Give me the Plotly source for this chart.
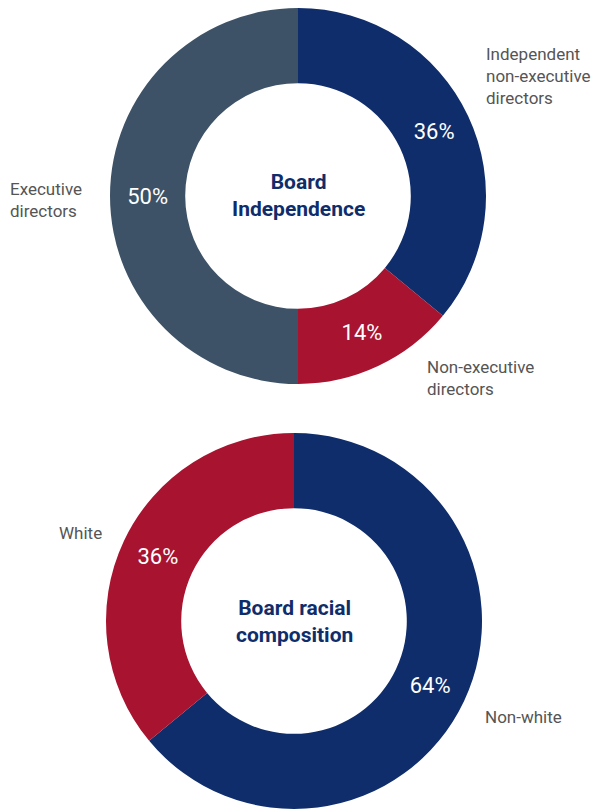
import plotly.graph_objects as go

# Board independence
indep_labels = ["Independent non-executive directors", "Non-executive directors", "Executive directors"]
indep_values = [36, 14, 50]
indep_colors = ["#0f2d6b", "#a8132f", "#3d5266"]

# Board racial composition
race_labels = ["Non-white", "White"]
race_values = [64, 36]
race_colors = ["#0f2d6b", "#a8132f"]

W, H = 601, 809
FONT = "Roboto"
NAVY = "#0f2d6b"
GREY = "#555555"


def px_x(x):
    return x / W


def px_y(y):
    return 1 - y / H


fig = go.Figure()

fig.add_trace(go.Pie(
    labels=indep_labels,
    values=indep_values,
    hole=0.6,
    sort=False,
    direction="clockwise",
    rotation=0,
    marker=dict(colors=indep_colors, line=dict(width=0)),
    texttemplate="%{value}%",
    textposition="inside",
    insidetextorientation="horizontal",
    textfont=dict(family=FONT, size=22, color="white"),
    domain=dict(x=[px_x(110), px_x(486)], y=[px_y(384), px_y(8)]),
    showlegend=False,
    hoverinfo="label+percent",
))

fig.add_trace(go.Pie(
    labels=race_labels,
    values=race_values,
    hole=0.6,
    sort=False,
    direction="clockwise",
    rotation=0,
    marker=dict(colors=race_colors, line=dict(width=0)),
    texttemplate="%{value}%",
    textposition="inside",
    insidetextorientation="horizontal",
    textfont=dict(family=FONT, size=22, color="white"),
    domain=dict(x=[px_x(106), px_x(482)], y=[px_y(809), px_y(433)]),
    showlegend=False,
    hoverinfo="label+percent",
))

annotations = []

# Centre titles
for text, cx, cy in [("Board<br>Independence", 298, 196),
                     ("Board racial<br>composition", 294, 621)]:
    annotations.append(dict(
        text=f"<b>{text}</b>", x=px_x(cx), y=px_y(cy), xref="paper", yref="paper",
        xanchor="center", yanchor="middle", showarrow=False, align="center",
        font=dict(family=FONT, size=21, color=NAVY),
    ))

# Category labels around the rings
outer_labels = [
    ("Independent<br>non-executive<br>directors", 484, 76),
    ("Non-executive<br>directors", 425, 378),
    ("Executive<br>directors", 8, 200),
    ("Non-white", 483, 717),
    ("White", 57, 533),
]
for text, lx, ly in outer_labels:
    annotations.append(dict(
        text=text, x=px_x(lx), y=px_y(ly), xref="paper", yref="paper",
        xanchor="left", yanchor="middle", showarrow=False, align="left",
        font=dict(family=FONT, size=17, color=GREY),
    ))

fig.update_layout(
    width=W, height=H,
    margin=dict(l=0, r=0, t=0, b=0),
    paper_bgcolor="white",
    plot_bgcolor="white",
    annotations=annotations,
)

fig.write_html("out.html")
